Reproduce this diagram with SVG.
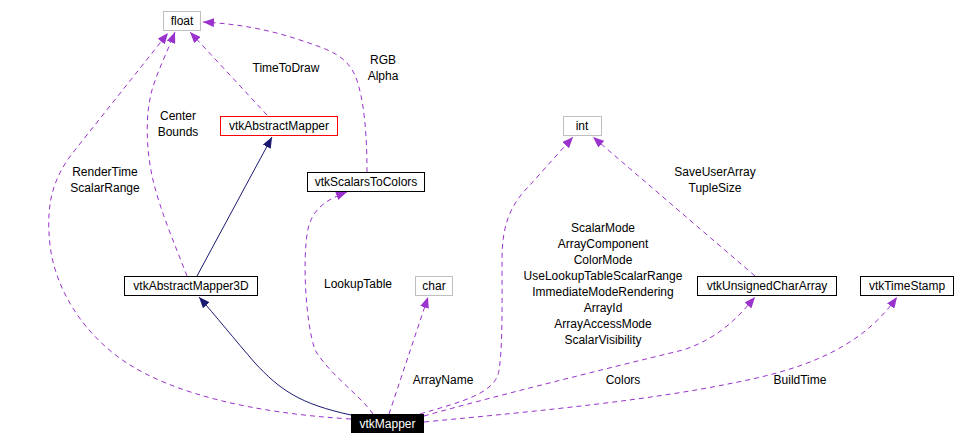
<svg xmlns="http://www.w3.org/2000/svg" width="980" height="445" viewBox="0 0 980 445">
<style>
text{font-family:"Liberation Sans",Arial,sans-serif;font-size:12px;fill:#000;text-anchor:middle}
.box{fill:#fff;stroke:#000;stroke-width:1}
.gray{fill:#fff;stroke:#bfbfbf;stroke-width:1}
.red{fill:#fff;stroke:#ff0000;stroke-width:1}
.dash{fill:none;stroke:#9a32cd;stroke-width:1;stroke-dasharray:5,4;marker-end:url(#ap)}
.inh{fill:none;stroke:#191970;stroke-width:1;marker-end:url(#an)}
</style>
<defs>
<marker id="ap" viewBox="0 0 11 9" refX="11" refY="4.5" markerWidth="11" markerHeight="9" markerUnits="userSpaceOnUse" orient="auto"><path d="M0,0 L11,4.5 L0,9 z" fill="#9a32cd"/></marker>
<marker id="an" viewBox="0 0 11 9" refX="11" refY="4.5" markerWidth="11" markerHeight="9" markerUnits="userSpaceOnUse" orient="auto"><path d="M0,0 L11,4.5 L0,9 z" fill="#191970"/></marker>
</defs>
<rect width="980" height="445" fill="#fff"/>
<g id="edges">
<path class="dash" d="M351,419 C250,413 175,393 130,365 C85,337 55,290 50,245 C45,200 55,175 75,150 L168,33"/>
<path class="dash" d="M187,276 C175,245 160,210 153,180 C146,150 145,115 152,90 C158,70 168,50 175,32"/>
<path class="dash" d="M267,115 L190,32"/>
<path class="dash" d="M367,172 C367,140 365,100 355,75 C345,55 330,50 300,40 C270,30 240,24 203,22"/>
<path class="inh" d="M197,276 L272,137"/>
<path class="inh" d="M351,415 C300,404 280,390 255,363 C235,340 215,315 199,297"/>
<path class="dash" d="M373,414 C360,395 330,375 315,350 C305,320 303,260 307,235 C310,210 325,200 347,192"/>
<path class="dash" d="M389,414 L428,297"/>
<path class="dash" d="M420,414 C460,402 490,395 498,375 C503,355 502,300 502,260 C502,225 510,205 530,185 L573,137"/>
<path class="dash" d="M755,276 L593,137"/>
<path class="dash" d="M424,416 C480,400 600,370 683,350 C720,338 740,315 755,297"/>
<path class="dash" d="M424,422 C550,410 650,400 733,383 C800,370 860,350 897,297"/>
</g>
<g id="labels">
<text x="286" y="72">TimeToDraw</text>
<text x="178" y="120">Center</text>
<text x="178" y="136">Bounds</text>
<text x="105" y="176">RenderTime</text>
<text x="105" y="192">ScalarRange</text>
<text x="383" y="64">RGB</text>
<text x="383" y="80">Alpha</text>
<text x="715" y="176">SaveUserArray</text>
<text x="715" y="192">TupleSize</text>
<text x="358" y="288">LookupTable</text>
<text x="603" y="232">ScalarMode</text>
<text x="603" y="248">ArrayComponent</text>
<text x="603" y="264">ColorMode</text>
<text x="603" y="280">UseLookupTableScalarRange</text>
<text x="603" y="296">ImmediateModeRendering</text>
<text x="603" y="312">ArrayId</text>
<text x="603" y="328">ArrayAccessMode</text>
<text x="603" y="344">ScalarVisibility</text>
<text x="443" y="384">ArrayName</text>
<text x="623" y="384">Colors</text>
<text x="800" y="384">BuildTime</text>
</g>
<g id="float"><rect class="gray" x="163.5" y="11.5" width="37" height="19"/><text x="182" y="25">float</text></g>
<g id="vtkAbstractMapper"><rect class="red" x="220.5" y="116.5" width="117" height="19"/><text x="279" y="130">vtkAbstractMapper</text></g>
<g id="vtkScalarsToColors"><rect class="box" x="307.5" y="172.5" width="117" height="19"/><text x="366" y="186">vtkScalarsToColors</text></g>
<g id="int"><rect class="gray" x="563.5" y="116.5" width="38" height="19"/><text x="582" y="130">int</text></g>
<g id="vtkAbstractMapper3D"><rect class="box" x="124.5" y="276.5" width="133" height="19"/><text x="191" y="290">vtkAbstractMapper3D</text></g>
<g id="char"><rect class="gray" x="415.5" y="276.5" width="37" height="19"/><text x="434" y="290">char</text></g>
<g id="vtkUnsignedCharArray"><rect class="box" x="697.5" y="276.5" width="139" height="19"/><text x="767" y="290">vtkUnsignedCharArray</text></g>
<g id="vtkTimeStamp"><rect class="box" x="860.5" y="276.5" width="93" height="19"/><text x="907" y="290">vtkTimeStamp</text></g>
<g id="vtkMapper"><rect x="351" y="414" width="73" height="19" fill="#000"/><text x="387.5" y="428" style="fill:#fff">vtkMapper</text></g>
</svg>
